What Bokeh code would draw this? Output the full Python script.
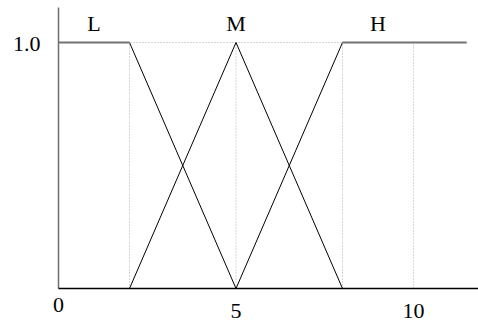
from bokeh.plotting import figure
from bokeh.models import Range1d
from bokeh.core.properties import value
from bokeh.embed import file_html
from bokeh.resources import INLINE

# ---- data ----
set_names = ["L", "M", "H"]
set_x = [[0, 2, 5], [2, 5, 8], [5, 8, 11.5]]
set_y = [[1, 1, 0], [0, 1, 0], [0, 1, 1]]
label_x = [1, 5, 9]
xtick_vals = [0, 5, 10]
xtick_labels = ["0", "5", "10"]
ytick_vals = [1.0]
ytick_labels = ["1.0"]
grid_x = [2, 5, 8, 10]
grid_y = [1.0]

# ---- layout (pixel scale: 35.5 px per x unit, 246 px per y unit) ----
W, H = 478, 325
left_px, bottom_px, top_px = 58, 37, 7
sx, sy = 35.5, 246.0
x_range = Range1d(-left_px / sx, (W - left_px) / sx)
y_range = Range1d(-bottom_px / sy, (H - bottom_px) / sy)

p = figure(width=W, height=H, x_range=x_range, y_range=y_range,
           output_backend="svg", toolbar_location=None,
           x_axis_location=None, y_axis_location=None,
           min_border=0, min_border_left=0, min_border_right=0,
           min_border_top=0, min_border_bottom=0)
p.outline_line_color = None
p.xgrid.visible = False
p.ygrid.visible = False
p.background_fill_color = "white"
p.border_fill_color = "white"

FONT = value("Liberation Serif")
FS = "22px"
xmax = max(max(xs) for xs in set_x)
ytop = (H - bottom_px - top_px) / sy

# dotted guide lines
p.segment(x0=grid_x, y0=[0] * len(grid_x), x1=grid_x, y1=[1] * len(grid_x),
          line_color="#b0b0b0", line_width=1, line_dash="1 2")
p.segment(x0=[0] * len(grid_y), y0=grid_y, x1=[xmax] * len(grid_y), y1=grid_y,
          line_color="#b0b0b0", line_width=1, line_dash="1 2")

# axes lines
p.segment(x0=[0], y0=[0], x1=[0], y1=[ytop], line_color="#6e6e6e", line_width=1.5)
p.segment(x0=[0], y0=[0], x1=[x_range.end], y1=[0], line_color="black", line_width=1.5)

# membership functions
dx0, dy0, dx1, dy1 = [], [], [], []
fx0, fy0, fx1, fy1 = [], [], [], []
for xs, ys in zip(set_x, set_y):
    for i in range(len(xs) - 1):
        if ys[i] == ys[i + 1]:
            fx0.append(xs[i]); fy0.append(ys[i]); fx1.append(xs[i + 1]); fy1.append(ys[i + 1])
        else:
            dx0.append(xs[i]); dy0.append(ys[i]); dx1.append(xs[i + 1]); dy1.append(ys[i + 1])
p.segment(x0=dx0, y0=dy0, x1=dx1, y1=dy1, line_color="black", line_width=1)
p.segment(x0=fx0, y0=fy0, x1=fx1, y1=fy1, line_color="#737373", line_width=2)

# set labels
p.text(x=label_x, y=[1] * len(label_x), text=set_names, text_font=FONT,
       text_font_size=FS, text_align="center", text_baseline="middle",
       y_offset=-19, text_color="black")

# tick labels
p.text(x=[0] * len(ytick_vals), y=ytick_vals, text=ytick_labels,
       text_font=FONT, text_font_size=FS, text_align="right",
       text_baseline="middle", x_offset=-18, y_offset=1, text_color="black")
p.text(x=xtick_vals[:1], y=[0], text=xtick_labels[:1], text_font=FONT,
       text_font_size=FS, text_align="center", text_baseline="middle",
       y_offset=16, text_color="black")
p.text(x=xtick_vals[1:], y=[0] * (len(xtick_vals) - 1), text=xtick_labels[1:],
       text_font=FONT, text_font_size=FS, text_align="center",
       text_baseline="middle", y_offset=22, text_color="black")

open("out.html", "w").write(file_html(p, INLINE))
